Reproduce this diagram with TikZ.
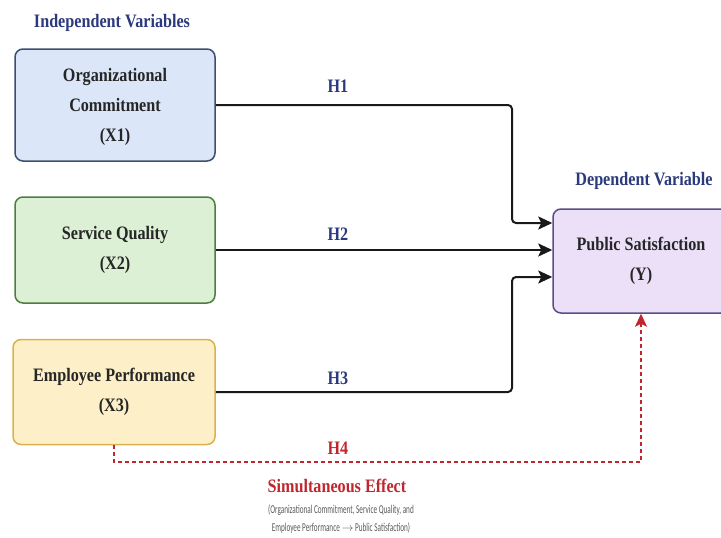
\documentclass[tikz,border=0pt]{standalone}
\usepackage{fontspec}
\setmainfont{Liberation Serif}[FakeStretch=0.85]
\newfontfamily\notefont{Carlito}[FakeStretch=0.6]
\usepackage{tikz}
\usetikzlibrary{arrows.meta}
\usepackage{xcolor}
\definecolor{navy}{HTML}{2B3A7C}
\definecolor{hred}{HTML}{C0262E}
\tikzset{var/.style={draw, rounded corners=8pt, line width=1.5pt, align=center,
  text=black!85, font=\fontsize{19}{30}\selectfont\bfseries}}
\tikzset{arr/.style={line width=2pt, draw=black!90, rounded corners=4pt,
  -{Stealth[length=14pt,width=13pt,inset=3pt]}}}
\tikzset{simul/.style={line width=1.3pt, draw=hred, dash pattern=on 4pt off 3pt,
  -{Stealth[length=13pt,width=12pt,inset=3pt]}}}
\tikzset{hyp/.style={text=navy, font=\fontsize{19}{22}\selectfont\bfseries}}
\tikzset{head/.style={text=navy, font=\fontsize{19}{22}\selectfont\bfseries}}

\begin{document}
\begin{tikzpicture}[x=1pt, y=-1pt]
	\useasboundingbox (0,0) rectangle (721,538);
	
	\node[head] (iv) at (112,23) {Independent Variables};
	\node[head] (dv) at (644,181) {Dependent Variable};
	
	\node[var, fill={rgb,255:red,219;green,230;blue,248}, draw={rgb,255:red,62;green,78;blue,114},
		minimum width=200pt, minimum height=112pt, text depth=-3pt] (oc) at (115,105) {Organizational\\Commitment\\(X1)};
	\node[var, fill={rgb,255:red,220;green,240;blue,213}, draw={rgb,255:red,78;green,125;blue,67},
		minimum width=200pt, minimum height=106pt] (sq) at (115,250) {Service Quality\\(X2)};
	\node[var, fill={rgb,255:red,253;green,240;blue,200}, draw={rgb,255:red,217;green,178;blue,76},
		minimum width=202pt, minimum height=105pt] (ep) at (114,392) {Employee Performance\\(X3)};
	\node[var, fill={rgb,255:red,235;green,224;blue,247}, draw={rgb,255:red,90;green,77;blue,134},
		minimum width=176pt, minimum height=104pt] (ps) at (641,261) {Public Satisfaction\\(Y)};
	
	% bends of the paths
	\coordinate (k1) at (512,223);
	\coordinate (k3) at (512,277);
	\coordinate (k4) at (641,462);
	
	\draw[arr] (oc.east) -| (k1) -- (k1 -| ps.west);
	\draw[arr] (sq.east) -- (sq.east -| ps.west);
	\draw[arr] (ep.east) -| (k3) -- (k3 -| ps.west);
	\draw[simul] (ep.south) |- (k4) -- (ps.south);
	
	\node[hyp] (h1) at (338,86) {H1};
	\node[hyp] (h2) at (338,234) {H2};
	\node[hyp] (h3) at (338,378) {H3};
	\node[hyp, text=hred] (h4) at (338,448) {H4};
	
	\node[text=hred, font=\fontsize{19}{22}\selectfont\bfseries] (se) at (337,486) {Simultaneous Effect};
	\node[text=black!65, align=center, font=\notefont\fontsize{12}{18}\selectfont] (nt) at (341,519)
		{(Organizational Commitment, Service Quality, and\\Employee Performance $\rightarrow$ Public Satisfaction)};
\end{tikzpicture}
\end{document}
